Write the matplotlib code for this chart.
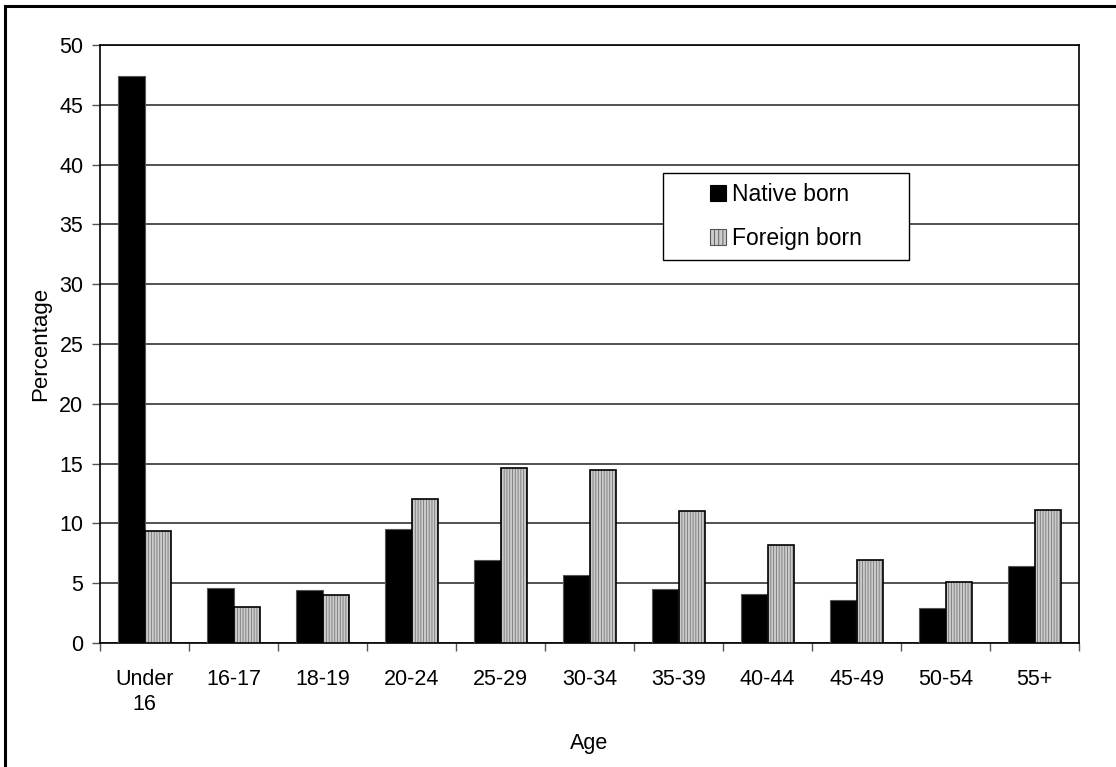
import matplotlib
matplotlib.use("Agg")
import matplotlib.pyplot as plt
from matplotlib.patches import Rectangle, Patch
import numpy as np

plt.rcParams['font.family'] = ['Liberation Sans', 'DejaVu Sans']
plt.rcParams['hatch.linewidth'] = 0.6

ages = ['Under\n16', '16-17', '18-19', '20-24', '25-29', '30-34',
        '35-39', '40-44', '45-49', '50-54', '55+']
native = [47.4, 4.6, 4.4, 9.5, 6.9, 5.7, 4.5, 4.1, 3.6, 2.9, 6.4]
foreign = [9.4, 3.0, 4.0, 12.0, 14.6, 14.5, 11.0, 8.2, 6.9, 5.1, 11.1]

fig = plt.figure(figsize=(11.16, 7.67), dpi=100)
ax = fig.add_axes([100/1116, 1-643/767, (1079-100)/1116, (643-45)/767])

x = np.arange(len(ages))
w = 0.3
ax.bar(x - w/2, native, w, color='black', edgecolor='#555555', linewidth=0.8, zorder=3)
# hatched fill, then a black outline on top
ax.bar(x + w/2, foreign, w, color='#cbcbcb', edgecolor='#777777', hatch='||||||',
       linewidth=0, zorder=3)
ax.bar(x + w/2, foreign, w, fill=False, edgecolor='black', linewidth=1.2, zorder=4)

ax.set_xlim(-0.5, len(ages) - 0.5)
ax.set_ylim(0, 50)
ax.set_yticks(range(0, 51, 5))
ax.set_xticks(x)
ax.set_xticklabels(ages)
ax.set_xticks(np.arange(-0.5, len(ages), 1), minor=True)
ax.tick_params(axis='x', which='major', length=0, pad=19, labelsize=15.5)
ax.tick_params(axis='x', which='minor', length=6, width=1, color='#555555', direction='out')
ax.tick_params(axis='y', length=6, width=1, color='#555555', pad=6, labelsize=15.5)

ax.yaxis.grid(True, color='#333333', linewidth=1.2)
ax.set_axisbelow(True)
for s in ax.spines.values():
    s.set_color('black')
    s.set_linewidth(1.2)

ax.set_xlabel('Age', fontsize=15.5, labelpad=13)
ax.set_ylabel('Percentage', fontsize=16, labelpad=6)

# legend box
bx0, by0, bx1, by1 = 663, 173, 909, 260
fig.patches.append(Rectangle((bx0/1116, 1-by1/767), (bx1-bx0)/1116, (by1-by0)/767,
                             transform=fig.transFigure, facecolor='white',
                             edgecolor='black', linewidth=1.0, zorder=5))
handles = [Patch(facecolor='black', edgecolor='black', linewidth=0.8),
           Patch(facecolor='#cbcbcb', edgecolor='#555555', hatch='||||', linewidth=0.8)]
leg = fig.legend(handles, ['Native born', 'Foreign born'], loc='center',
                 bbox_to_anchor=((bx0+bx1)/2/1116, 1-(by0+by1)/2/767),
                 frameon=False, fontsize=16.5, handlelength=0.68, handleheight=0.68,
                 handletextpad=0.25, labelspacing=0.9)
leg.set_zorder(6)

# outer frame of the chart area
fig.patches.append(Rectangle((5/1116, -0.02), 1.1, 1-6/767+0.02,
                             transform=fig.transFigure, fill=False,
                             edgecolor='black', linewidth=2.2))

fig.savefig('out.png', dpi=100)
